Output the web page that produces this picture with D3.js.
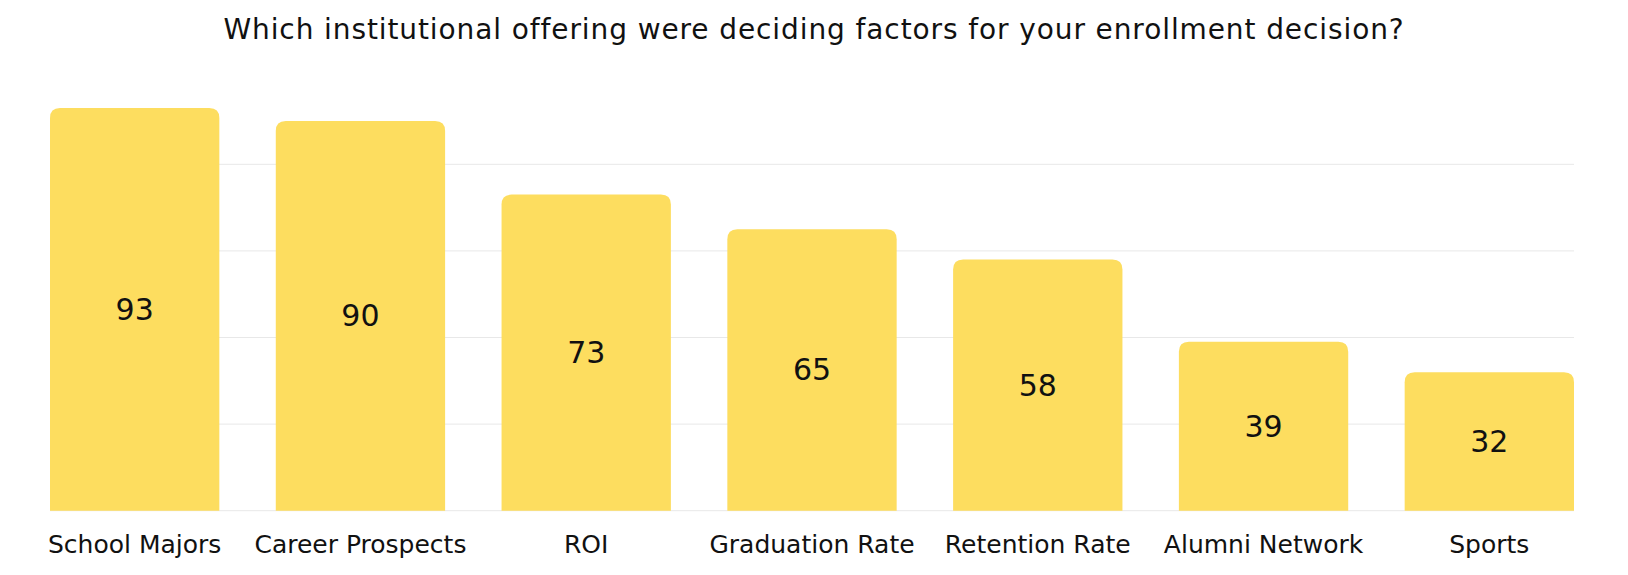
<!DOCTYPE html>
<html>
<head>
<meta charset="utf-8">
<script src="https://cdn.jsdelivr.net/npm/d3@7"></script>
<style>
  html, body { margin: 0; padding: 0; background: #fff; }
  svg { display: block; }
</style>
</head>
<body>
<svg id="chart" width="1628" height="575"></svg>
<script>
// ── Data ──────────────────────────────────────────────────────────────────────
const categories = ['School Majors', 'Career Prospects', 'ROI', 'Graduation Rate',
                    'Retention Rate', 'Alumni Network', 'Sports'];
const values     = [93, 90, 73, 65, 58, 39, 32];
const gridTicks  = [0, 20, 40, 60, 80];
const title      = 'Which institutional offering were deciding factors for your enrollment decision?';

// ── Layout ────────────────────────────────────────────────────────────────────
const W = 1628, H = 575;
const plot = { left: 50, right: 1574, top: 77.7, bottom: 510.7 };
const barColor  = '#FDDD5F';
const gridColor = '#e8e8e8';
const uiFont    = "'DejaVu Sans', 'Noto Sans', sans-serif";

const svg = d3.select('#chart');

const x = d3.scaleBand()
  .domain(categories)
  .range([plot.left, plot.right])
  .paddingInner(0.25)
  .paddingOuter(0);

const y = d3.scaleLinear()
  .domain([0, 100])
  .range([plot.bottom, plot.top]);

const rows = categories.map((c, i) => ({ cat: c, val: values[i] }));

// ── Gridlines ─────────────────────────────────────────────────────────────────
svg.append('g')
  .selectAll('line')
  .data(gridTicks)
  .enter().append('line')
    .attr('x1', plot.left).attr('x2', plot.right)
    .attr('y1', d => y(d)).attr('y2', d => y(d))
    .attr('stroke', gridColor)
    .attr('stroke-width', 1);

// ── Bars (rounded top corners only) ───────────────────────────────────────────
const r = 10;
function topRounded(x0, y0, w, h) {
  return `M${x0},${y0 + h}V${y0 + r}Q${x0},${y0} ${x0 + r},${y0}` +
         `H${x0 + w - r}Q${x0 + w},${y0} ${x0 + w},${y0 + r}V${y0 + h}Z`;
}

svg.append('g')
  .selectAll('path')
  .data(rows)
  .enter().append('path')
    .attr('d', d => topRounded(x(d.cat), y(d.val), x.bandwidth(), y(0) - y(d.val)))
    .attr('fill', barColor);

// ── Value labels (centred in bar) ─────────────────────────────────────────────
svg.append('g')
  .selectAll('text')
  .data(rows)
  .enter().append('text')
    .attr('x', d => x(d.cat) + x.bandwidth() / 2)
    .attr('y', d => (y(d.val) + y(0)) / 2)
    .attr('text-anchor', 'middle')
    .attr('dominant-baseline', 'central')
    .attr('font-family', uiFont)
    .attr('font-size', 30)
    .attr('fill', '#111')
    .text(d => d.val);

// ── Category axis labels ──────────────────────────────────────────────────────
svg.append('g')
  .selectAll('text')
  .data(rows)
  .enter().append('text')
    .attr('x', d => x(d.cat) + x.bandwidth() / 2)
    .attr('y', 553)
    .attr('text-anchor', 'middle')
    .attr('font-family', uiFont)
    .attr('font-size', 25)
    .attr('fill', '#111')
    .text(d => d.cat);

// ── Title ─────────────────────────────────────────────────────────────────────
svg.append('text')
  .attr('x', W / 2)
  .attr('y', 39)
  .attr('text-anchor', 'middle')
  .attr('font-family', uiFont)
  .attr('font-size', 28)
  .attr('letter-spacing', 0.9)
  .attr('fill', '#111')
  .text(title);
</script>
</body>
</html>
